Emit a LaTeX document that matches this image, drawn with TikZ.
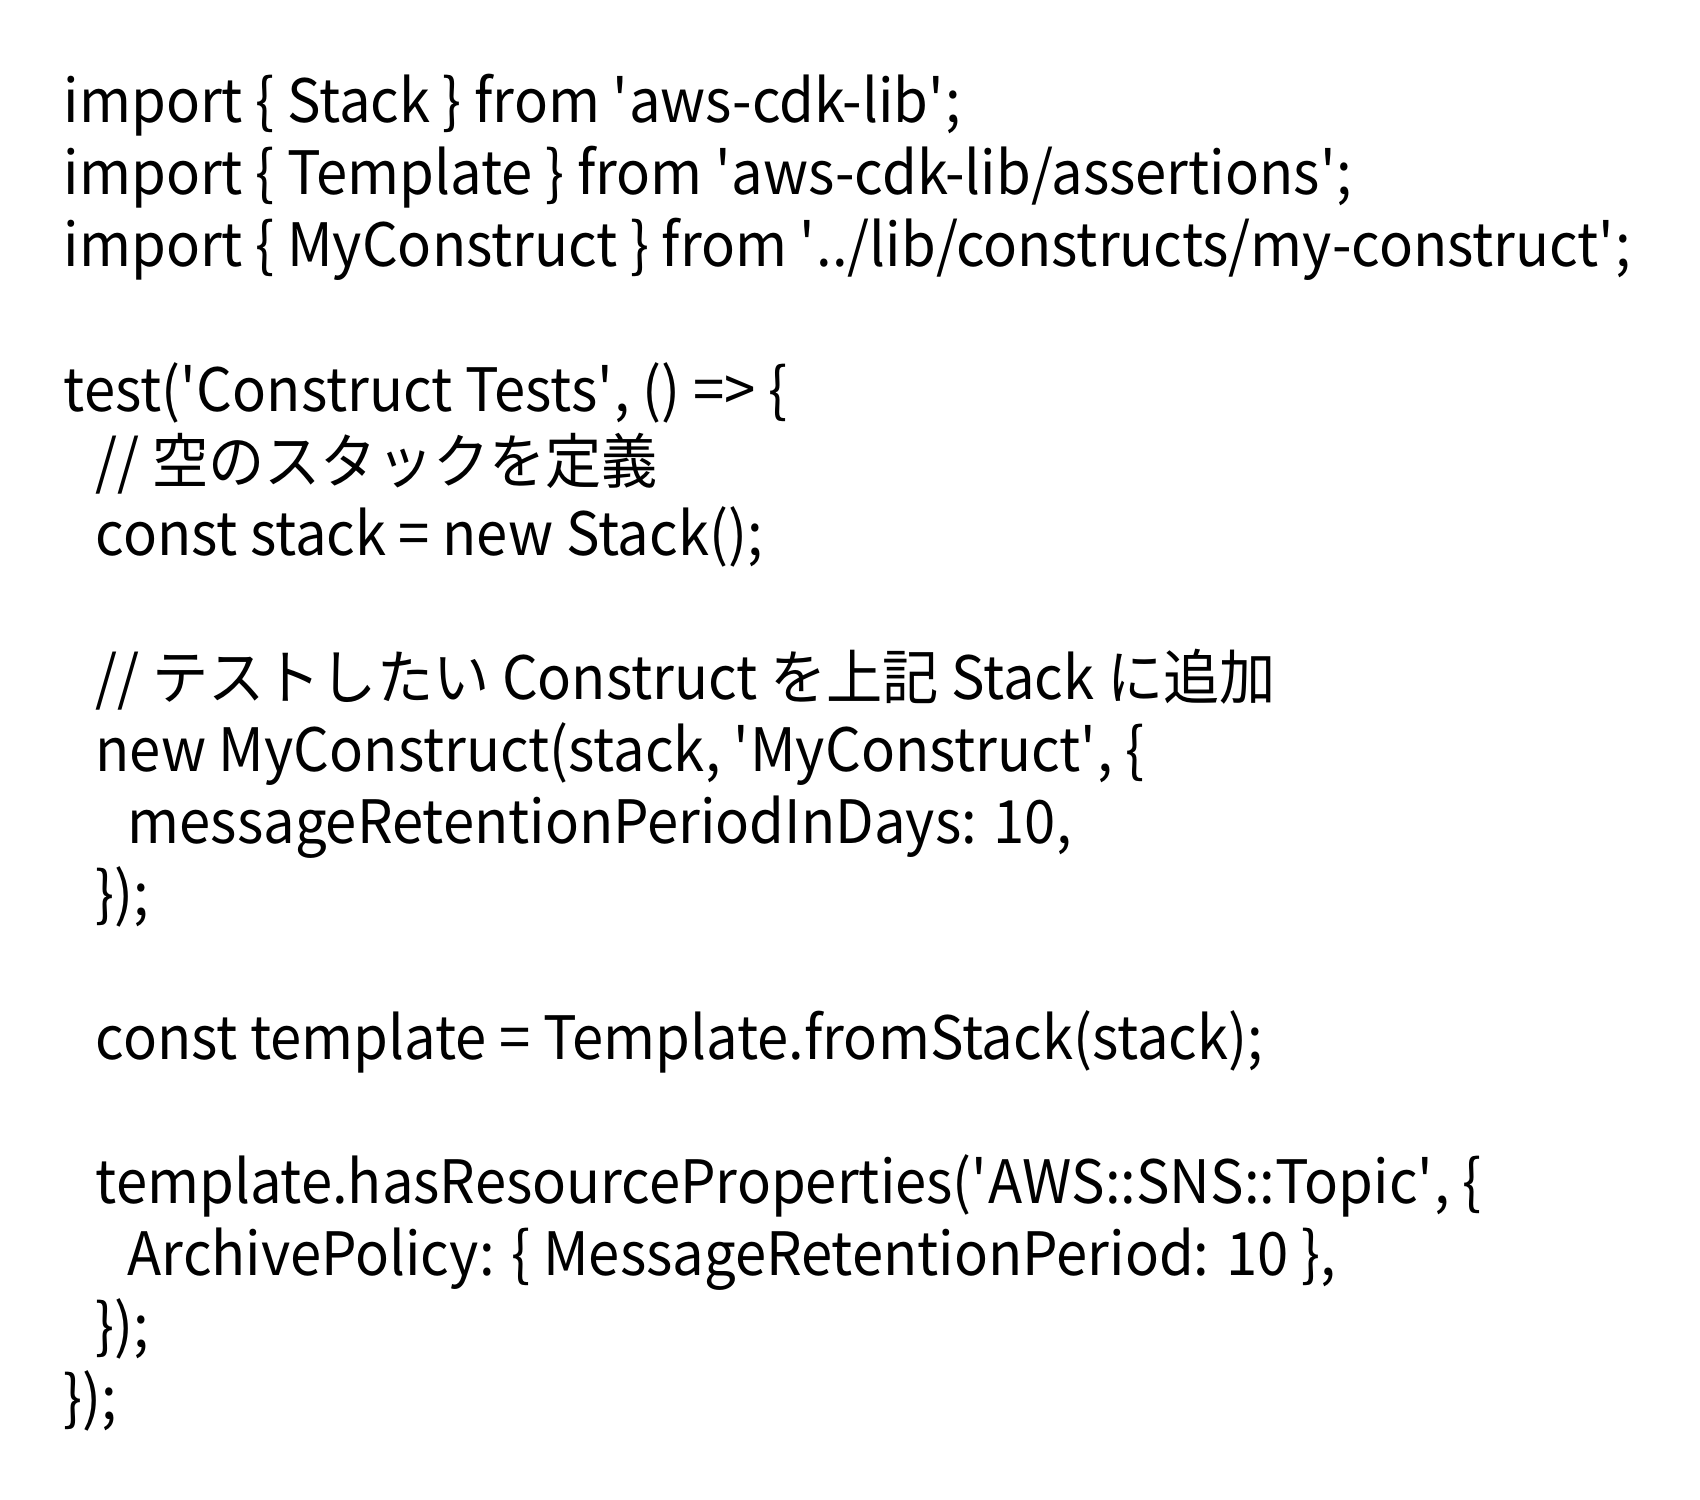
\documentclass[tikz,border=0pt]{standalone}
\usepackage{fontspec}
\setmainfont{Noto Sans CJK JP}[FakeStretch=0.94]
\usetikzlibrary{positioning}
\newcommand{\q}{\textquotesingle}
\begin{document}
\begin{tikzpicture}[x=0.01cm,y=-0.01cm]
	\tikzstyle{every node}+=[inner sep=0pt,anchor=base west,font=\fontsize{17}{21}\selectfont]
	\useasboundingbox (0,0) rectangle (1700,1500);
	\fill[white] (0,0) rectangle (1700,1500);
	\draw (63,123) node (imp1) {import \{ Stack \} from \q aws-cdk-lib\q;};
	\draw (63,195) node (imp2) {import \{ Template \} from \q aws-cdk-lib/assertions\q;};
	\draw (63,267) node (imp3) {import \{ MyConstruct \} from \q../lib/constructs/my-construct\q;};
	\draw (63,411) node (test) {test(\q Construct Tests\q, () => \{};
	\draw (95,483) node (com1) {// 空のスタックを定義};
	\draw (95,555) node (stk) {const stack = new Stack();};
	\draw (95,699) node (com2) {// テストしたい Construct を上記 Stack に追加};
	\draw (95,771) node (new) {new MyConstruct(stack, \q MyConstruct\q, \{};
	\draw (127,843) node (msg) {messageRetentionPeriodInDays: 10,};
	\draw (95,915) node (end1) {\});};
	\draw (95,1059) node (tpl) {const template = Template.fromStack(stack);};
	\draw (95,1203) node (has) {template.hasResourceProperties(\q AWS::SNS::Topic\q, \{};
	\draw (127,1275) node (arc) {ArchivePolicy: \{ MessageRetentionPeriod: 10 \},};
	\draw (95,1347) node (end2) {\});};
	\draw (63,1419) node (end3) {\});};
\end{tikzpicture}
\end{document}
